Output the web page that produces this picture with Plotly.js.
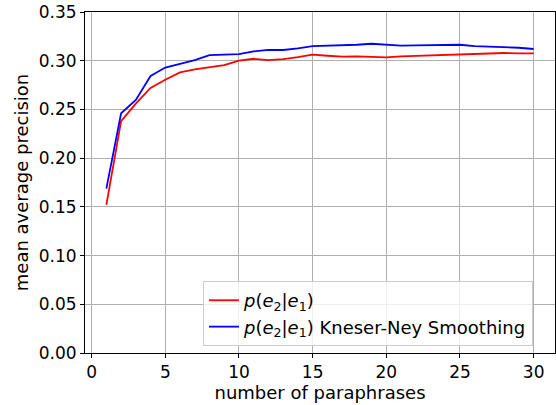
<!DOCTYPE html>
<html>
<head>
<meta charset="utf-8">
<script src="https://cdn.plot.ly/plotly-3.0.1.min.js"></script>
<style>
html,body{margin:0;padding:0;background:#fff;}
#chart{width:556px;height:405px;}
</style>
</head>
<body>
<div id="chart"></div>
<script>
const paraphrases = [1,2,3,4,5,6,7,8,9,10,11,12,13,14,15,16,17,18,19,20,21,22,23,24,25,26,27,28,29,30];
const mapBase = [0.152,0.238,0.256,0.272,0.2805,0.288,0.291,0.293,0.2955,0.300,0.302,0.3006,0.3017,0.3037,0.3062,
                 0.3051,0.3041,0.3044,0.3038,0.3034,0.3044,0.3048,0.3058,0.3062,0.3065,0.3068,0.3072,0.3079,0.3075,0.3075];
const mapKN = [0.1687,0.246,0.2597,0.2843,0.293,0.2966,0.3006,0.3058,0.3064,0.3068,0.3095,0.3112,0.311,0.3126,0.315,
               0.3154,0.3164,0.3164,0.3174,0.3161,0.3154,0.3157,0.3157,0.3161,0.3164,0.315,0.3144,0.314,0.3133,0.312];
const seriesNames = ['<i>p</i>(<i>e</i><sub>2</sub>|<i>e</i><sub>1</sub>)',
                     '<i>p</i>(<i>e</i><sub>2</sub>|<i>e</i><sub>1</sub>) Kneser-Ney Smoothing'];
const xTicks = [0,5,10,15,20,25,30];
const yTicks = [0,0.05,0.10,0.15,0.20,0.25,0.30,0.35];

const font = {family: 'DejaVu Sans, sans-serif', size: 17, color: '#000'};
const bigFont = {family: 'DejaVu Sans, sans-serif', size: 18, color: '#000'};
const traces = [
  {x: paraphrases, y: mapBase, mode: 'lines', name: seriesNames[0], line: {color: '#ff0000', width: 1.8}},
  {x: paraphrases, y: mapKN, mode: 'lines', name: seriesNames[1], line: {color: '#0000ff', width: 1.8}}
];
const axisCommon = {
  showline: true, linecolor: '#000', linewidth: 1, mirror: true,
  ticks: 'outside', ticklen: 4, tickwidth: 1, tickcolor: '#000',
  showgrid: true, gridcolor: '#b0b0b0', gridwidth: 1, zeroline: false,
  tickfont: font
};
const layout = {
  width: 556, height: 405,
  margin: {l: 85, r: 1, t: 12, b: 52},
  paper_bgcolor: '#fff', plot_bgcolor: '#fff',
  font: font,
  showlegend: true,
  xaxis: Object.assign({}, axisCommon, {
    range: [-0.45, 31.45], tickvals: xTicks, ticktext: xTicks.map(String),
    title: {text: 'number of paraphrases', font: bigFont, standoff: 2}
  }),
  yaxis: Object.assign({}, axisCommon, {
    range: [0, 0.35], tickvals: yTicks, ticktext: yTicks.map(v => v.toFixed(2)),
    title: {text: 'mean average precision', font: bigFont, standoff: 5}
  }),
  legend: {
    x: 0.251, y: 0.211, xanchor: 'left', yanchor: 'top',
    bgcolor: 'rgba(255,255,255,0.8)', bordercolor: '#cccccc', borderwidth: 1,
    font: bigFont, tracegroupgap: 0
  }
};
Plotly.newPlot('chart', traces, layout, {staticPlot: true, displayModeBar: false});
</script>
</body>
</html>
